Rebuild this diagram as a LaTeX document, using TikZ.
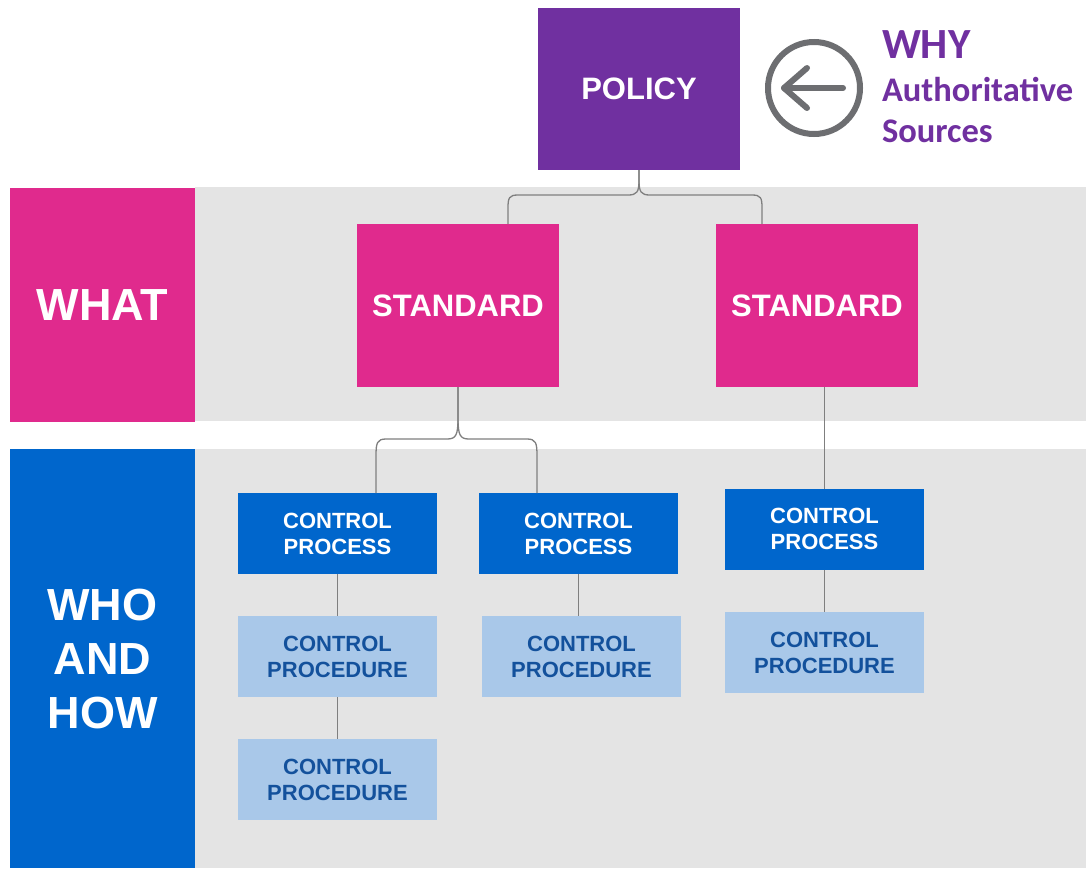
\documentclass[tikz,border=0pt]{standalone}
\usepackage{fontspec}
\setmainfont{Liberation Sans}
\newfontfamily\carlito{Carlito}
\usetikzlibrary{calc}
\definecolor{polpurple}{HTML}{7030A0}
\definecolor{stdmagenta}{HTML}{E02A8D}
\definecolor{procblue}{HTML}{0066CC}
\definecolor{lightblue}{HTML}{A9C8E9}
\definecolor{darkbluetext}{HTML}{13519C}
\definecolor{bandgray}{HTML}{E4E4E4}
\definecolor{icongray}{HTML}{6D6E71}
\definecolor{linegray}{HTML}{7F7F7F}
\begin{document}
\begin{tikzpicture}[x=1pt,y=-1pt,
  box/.style={rectangle, inner sep=0pt, outer sep=0pt, align=center, font=\bfseries},
  bigbox/.style={box, minimum width=202pt, minimum height=163pt, text=white, font=\bfseries\fontsize{31}{37}\selectfont},
  sidebox/.style={box, minimum width=185pt, text=white, font=\bfseries\fontsize{45}{54}\selectfont},
  cprocess/.style={box, fill=procblue, minimum width=199pt, minimum height=81pt, text=white, font=\bfseries\fontsize{22}{26}\selectfont},
  cproc/.style={box, fill=lightblue, minimum width=199pt, minimum height=81pt, text=darkbluetext, font=\bfseries\fontsize{22}{26}\selectfont},
  conn/.style={draw=linegray, line width=1.3pt},
  why/.style={inner sep=0pt, outer sep=0pt, anchor=base west, text=polpurple}
]
\useasboundingbox (0,0) rectangle (1086,868);
\fill[white] (0,0) rectangle (1086,868);
% bands
\fill[bandgray] (195,187) rectangle (1086,421);
\fill[bandgray] (195,449) rectangle (1086,868);
% side labels
\node[sidebox, fill=stdmagenta, minimum height=234pt] (what) at (102.5,305) {WHAT};
\node[sidebox, fill=procblue, minimum height=419pt] (who) at (102.5,658.5) {WHO\\AND\\HOW};
% policy and standards
\node[bigbox, fill=polpurple, minimum height=162pt] (policy) at (639,89) {POLICY};
\node[bigbox, fill=stdmagenta] (std1) at (458,305.5) {STANDARD};
\node[bigbox, fill=stdmagenta] (std2) at (817,305.5) {STANDARD};
% control processes
\node[cprocess] (cp1) at (337.5,533.5) {CONTROL\\PROCESS};
\node[cprocess] (cp2) at (578.5,533.5) {CONTROL\\PROCESS};
\node[cprocess] (cp3) at (824.5,529) {CONTROL\\PROCESS};
% control procedures
\node[cproc] (pr1) at (337.5,656.5) {CONTROL\\PROCEDURE};
\node[cproc] (pr2) at (581.5,656.5) {CONTROL\\PROCEDURE};
\node[cproc] (pr3) at (824.5,652.5) {CONTROL\\PROCEDURE};
\node[cproc] (pr4) at (337.5,779.5) {CONTROL\\PROCEDURE};
% WHY icon and text
\node[circle, draw=icongray, line width=6pt, minimum size=92pt, inner sep=0pt] (icon) at (814,88) {};
\coordinate (arrtip) at ($(icon.center)+(-30,0)$);
\coordinate (arrend) at ($(icon.center)+(29,0)$);
\coordinate (chtop) at ($(icon.center)+(-7,-20)$);
\coordinate (chbot) at ($(icon.center)+(-7,20)$);
\draw[icongray, line width=6pt, line cap=round, line join=round] (arrend) -- (arrtip);
\draw[icongray, line width=6pt, line cap=round, line join=round] (chtop) -- (arrtip) -- (chbot);
\node[why, font=\carlito\bfseries\fontsize{43}{43}\selectfont] (whyt) at (882,58) {WHY};
\node[why, font=\carlito\bfseries\fontsize{34.5}{34.5}\selectfont] (autht) at (882,101) {Authoritative};
\node[why, font=\carlito\bfseries\fontsize{34.5}{34.5}\selectfont] (srct) at (882,142) {Sources};
% brace connectors
\coordinate (s1a) at ($(std1.north)+(50,0)$);
\coordinate (s2a) at ($(std2.north)+(-55,0)$);
\draw[conn] (policy.south) -- (639,180) .. controls (639,192) and (637,195) .. (628,195) -- (518,195) .. controls (509,195) and (508,198) .. (508,208) -- (s1a);
\draw[conn] (policy.south) -- (639,180) .. controls (639,192) and (641,195) .. (650,195) -- (752,195) .. controls (761,195) and (762,198) .. (762,208) -- (s2a);
\coordinate (c1a) at ($(cp1.north)+(38.5,0)$);
\coordinate (c2a) at ($(cp2.north)+(-41.5,0)$);
\draw[conn] (std1.south) -- (458,418) .. controls (458,435) and (456,439) .. (447,439) -- (386,439) .. controls (377,439) and (376,443) .. (376,456) -- (c1a);
\draw[conn] (std1.south) -- (458,418) .. controls (458,435) and (460,439) .. (469,439) -- (527,439) .. controls (536,439) and (537,443) .. (537,456) -- (c2a);
% straight connectors
\draw[conn] (std2.south -| cp3.north) -- (cp3.north);
\draw[conn] (cp1.south) -- (pr1.north);
\draw[conn] (pr1.south) -- (pr4.north);
\draw[conn] (cp2.south) -- (cp2.south |- pr2.north);
\draw[conn] (cp3.south) -- (pr3.north);
\end{tikzpicture}
\end{document}
